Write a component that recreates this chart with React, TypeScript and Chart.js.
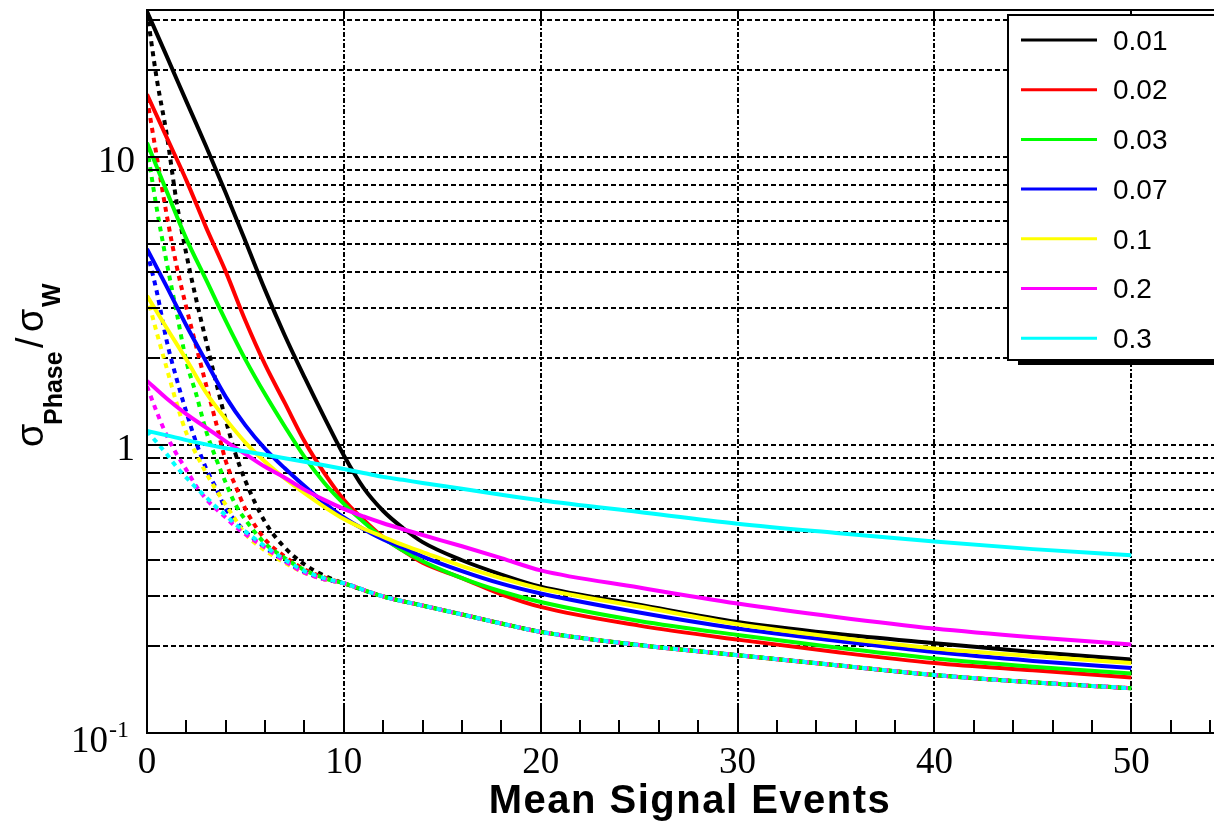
import React, { useEffect, useRef } from "react";
import { Chart, registerables } from "chart.js";

Chart.register(...registerables);

const W = 1214;
const H = 822;
const X_MAX = 54.2;
const Y_MIN = 0.1;
const Y_MAX = 32.4;

const legendLabels = ["0.01", "0.02", "0.03", "0.07", "0.1", "0.2", "0.3"];
const seriesColors = ["#000000", "#ff0000", "#00ff00", "#0000ff", "#ffff00", "#ff00ff", "#00ffff"];

const xTickValues = [0, 10, 20, 30, 40, 50];
const yTickValues = [0.1, 0.2, 0.3, 0.4, 0.5, 0.6, 0.7, 0.8, 0.9, 1, 2, 3, 4, 5, 6, 7, 8, 9, 10, 20, 30];
const yLabelValues = [1, 10];
const xTitle = "Mean Signal Events";
const yTitleMain = "\u03C3";
const yTitleSub1 = "Phase";
const yTitleSub2 = "W";

// solid curves
const xSolid = [0, 1, 2, 3, 4, 5, 6, 7, 8, 9, 10, 11, 12, 13, 14, 16, 18, 20, 25, 30, 35, 40, 45, 50];
const solid001 = [32, 22.4, 15.6, 10.9, 7.5, 5.1, 3.45, 2.4, 1.72, 1.25, 0.92, 0.71, 0.59, 0.515, 0.46, 0.398, 0.355, 0.322, 0.279, 0.243, 0.221, 0.205, 0.191, 0.18];
const solid002 = [16.5, 11.7, 8.3, 5.7, 4.0, 2.7, 1.9, 1.4, 1.03, 0.8, 0.645, 0.55, 0.478, 0.43, 0.39, 0.345, 0.303, 0.274, 0.236, 0.211, 0.191, 0.175, 0.165, 0.156];
const solid003 = [11.2, 7.6, 5.2, 3.75, 2.7, 1.98, 1.5, 1.16, 0.91, 0.74, 0.625, 0.54, 0.475, 0.43, 0.395, 0.345, 0.31, 0.285, 0.245, 0.219, 0.198, 0.1815, 0.17, 0.161];
const solid007 = [4.8, 3.55, 2.6, 1.95, 1.47, 1.17, 0.97, 0.83, 0.72, 0.63, 0.56, 0.51, 0.47, 0.44, 0.41, 0.365, 0.33, 0.305, 0.262, 0.2305, 0.209, 0.191, 0.178, 0.168];
const solid01 = [3.3, 2.55, 1.98, 1.52, 1.23, 1.02, 0.875, 0.765, 0.68, 0.61, 0.553, 0.512, 0.48, 0.45, 0.425, 0.38, 0.345, 0.317, 0.275, 0.2387, 0.215, 0.1966, 0.185, 0.175];
const solid02 = [1.67, 1.45, 1.28, 1.15, 1.03, 0.93, 0.84, 0.77, 0.7, 0.645, 0.6, 0.565, 0.535, 0.51, 0.487, 0.445, 0.405, 0.367, 0.32, 0.2815, 0.253, 0.2305, 0.215, 0.203];
const solid03 = [1.12, 1.08, 1.04, 1.005, 0.975, 0.95, 0.925, 0.9, 0.875, 0.85, 0.825, 0.8, 0.775, 0.757, 0.738, 0.705, 0.672, 0.643, 0.585, 0.533, 0.495, 0.462, 0.435, 0.414];

// dotted curves
const xDotted = [0, 0.5, 1, 1.5, 2, 2.5, 3, 3.5, 4, 4.5, 5, 6, 7, 8, 9, 10, 12, 14, 16, 18, 20, 25, 30, 35, 40, 45, 50];
const dotted001 = [32, 18.6, 12, 7.0, 4.6, 3.2, 2.3, 1.66, 1.22, 0.93, 0.75, 0.54, 0.44, 0.385, 0.352, 0.331, 0.298, 0.277, 0.258, 0.24, 0.2245, 0.202, 0.1863, 0.172, 0.159, 0.15, 0.143];
const dotted002 = [16, 10, 6.3, 4.2, 3.0, 2.2, 1.62, 1.2, 0.88, 0.72, 0.6, 0.47, 0.41, 0.37, 0.347, 0.331, 0.298, 0.277, 0.258, 0.24, 0.2245, 0.202, 0.1863, 0.172, 0.159, 0.15, 0.143];
const dotted003 = [10.8, 6.6, 4.3, 2.9, 1.95, 1.5, 1.12, 0.9, 0.74, 0.62, 0.55, 0.455, 0.405, 0.368, 0.345, 0.331, 0.298, 0.277, 0.258, 0.24, 0.2245, 0.202, 0.1863, 0.172, 0.159, 0.15, 0.143];
const dotted007 = [4.7, 3.4, 2.3, 1.7, 1.3, 1.02, 0.83, 0.71, 0.6, 0.545, 0.5, 0.44, 0.395, 0.362, 0.342, 0.331, 0.298, 0.277, 0.258, 0.24, 0.2245, 0.202, 0.1863, 0.172, 0.159, 0.15, 0.143];
const dotted01 = [3.3, 2.45, 1.85, 1.4, 1.1, 0.93, 0.8, 0.7, 0.62, 0.55, 0.49, 0.43, 0.39, 0.36, 0.342, 0.331, 0.298, 0.277, 0.258, 0.24, 0.2245, 0.202, 0.1863, 0.172, 0.159, 0.15, 0.143];
const dotted02 = [1.6, 1.3, 1.08, 0.93, 0.82, 0.72, 0.65, 0.6, 0.56, 0.52, 0.49, 0.44, 0.395, 0.36, 0.342, 0.331, 0.298, 0.277, 0.258, 0.24, 0.2245, 0.202, 0.1863, 0.172, 0.159, 0.15, 0.143];
const dotted03 = [1.12, 1.02, 0.93, 0.84, 0.77, 0.71, 0.66, 0.61, 0.57, 0.53, 0.5, 0.445, 0.4, 0.365, 0.345, 0.331, 0.298, 0.277, 0.258, 0.24, 0.2245, 0.202, 0.1863, 0.172, 0.159, 0.15, 0.143];

const solidSeries = [solid001, solid002, solid003, solid007, solid01, solid02, solid03];
const dottedSeries = [dotted001, dotted002, dotted003, dotted007, dotted01, dotted02, dotted03];

const SERIF = '"Liberation Serif", "Times New Roman", serif';
const SANS = '"Liberation Sans", Arial, sans-serif';

function line(ctx: CanvasRenderingContext2D, x1: number, y1: number, x2: number, y2: number) {
  ctx.beginPath();
  ctx.moveTo(x1, y1);
  ctx.lineTo(x2, y2);
  ctx.stroke();
}

const decorPlugin = {
  id: "decor",
  beforeDatasetsDraw(chart: any) {
    const { ctx, chartArea: a, scales } = chart;
    const xs = scales.x;
    const ys = scales.y;
    ctx.save();
    ctx.strokeStyle = "#000";
    ctx.lineWidth = 2;
    ctx.setLineDash([5, 3]);
    yTickValues.forEach((v) => {
      if (v <= Y_MIN) return;
      const py = Math.round(ys.getPixelForValue(v));
      line(ctx, a.left, py, a.right, py);
    });
    ctx.setLineDash([5, 2, 2, 2]);
    xTickValues.forEach((v) => {
      if (v === 0) return;
      const px = Math.round(xs.getPixelForValue(v));
      line(ctx, px, a.top, px, a.bottom);
    });
    ctx.restore();
  },
  afterDraw(chart: any) {
    const { ctx, chartArea: a, scales } = chart;
    const xs = scales.x;
    const ys = scales.y;
    ctx.save();
    ctx.setLineDash([]);
    ctx.strokeStyle = "#000";
    ctx.lineWidth = 2;
    // frame
    line(ctx, a.left, a.top, a.left, a.bottom);
    line(ctx, a.left - 1, a.bottom, a.right, a.bottom);
    line(ctx, a.left - 1, a.top, a.right, a.top);
    // x ticks (inward)
    for (let v = 2; v <= X_MAX; v += 2) {
      const px = Math.round(xs.getPixelForValue(v));
      const major = v % 10 === 0;
      line(ctx, px, a.bottom, px, a.bottom - (major ? 25 : 13));
      if (major) line(ctx, px, a.top, px, a.top + 8);
    }
    // y ticks (inward)
    yTickValues.forEach((v) => {
      if (v <= Y_MIN) return;
      const py = Math.round(ys.getPixelForValue(v));
      const major = yLabelValues.includes(v);
      line(ctx, a.left, py, a.left + (major ? 20 : 12), py);
    });

    // 10^-1 label
    ctx.fillStyle = "#000";
    ctx.textAlign = "left";
    ctx.textBaseline = "alphabetic";
    ctx.font = `37px ${SERIF}`;
    const baseLbl = "10";
    const bw = ctx.measureText(baseLbl).width;
    ctx.fillText(baseLbl, 71, 752);
    ctx.font = `24px ${SERIF}`;
    ctx.fillText("-1", 71 + bw + 1, 737);

    // x title
    ctx.font = `bold 40px ${SANS}`;
    (ctx as any).letterSpacing = "1.5px";
    ctx.textAlign = "center";
    ctx.fillText(xTitle, 690, 813);
    (ctx as any).letterSpacing = "0px";

    // y title (rotated)
    ctx.save();
    ctx.translate(43, 447);
    ctx.rotate(-Math.PI / 2);
    ctx.textAlign = "left";
    ctx.font = `38px ${SANS}`;
    ctx.fillText(yTitleMain, 0, 0);
    ctx.font = `bold 25px ${SANS}`;
    ctx.fillText(yTitleSub1, 22, 19);
    ctx.font = `38px ${SANS}`;
    ctx.fillText("/", 99, 0);
    ctx.fillText(yTitleMain, 115, 0);
    ctx.font = `bold 25px ${SANS}`;
    ctx.fillText(yTitleSub2, 140, 17);
    ctx.restore();

    // legend
    const L = 1007;
    const T = 14;
    const B = 360;
    ctx.fillStyle = "#000";
    ctx.fillRect(1018, B - 2, W, 7);
    ctx.fillStyle = "#fff";
    ctx.fillRect(L, T, W, B - T);
    ctx.lineWidth = 2;
    ctx.strokeStyle = "#000";
    ctx.strokeRect(L + 1, T + 1, W, B - T - 1);
    ctx.font = `28px ${SANS}`;
    ctx.textAlign = "left";
    ctx.textBaseline = "middle";
    legendLabels.forEach((lab, i) => {
      const yy = 40 + i * 49.7;
      ctx.strokeStyle = seriesColors[i];
      ctx.lineWidth = 3;
      line(ctx, 1021, yy, 1097, yy);
      ctx.fillStyle = "#000";
      ctx.fillText(lab, 1113, yy + 2);
    });
    ctx.restore();
  },
};

export default function App() {
  const ref = useRef<HTMLCanvasElement | null>(null);
  useEffect(() => {
    const canvas = ref.current;
    if (!canvas) return;
    const datasets: any[] = [];
    legendLabels.forEach((lab, i) => {
      datasets.push({
        label: lab,
        data: xSolid.map((x, j) => ({ x, y: solidSeries[i][j] })),
        borderColor: seriesColors[i],
        backgroundColor: seriesColors[i],
        borderWidth: 4,
        pointRadius: 0,
        fill: false,
        cubicInterpolationMode: "monotone",
        order: 100 - 2 * i,
      });
      datasets.push({
        label: lab + " (dotted)",
        data: xDotted.map((x, j) => ({ x, y: dottedSeries[i][j] })),
        borderColor: seriesColors[i],
        backgroundColor: seriesColors[i],
        borderWidth: 4,
        borderDash: [5, 5],
        pointRadius: 0,
        fill: false,
        cubicInterpolationMode: "monotone",
        order: 99 - 2 * i,
      });
    });
    const chart = new Chart(canvas, {
      type: "line",
      data: { datasets },
      options: {
        animation: false,
        responsive: false,
        devicePixelRatio: 1,
        layout: { padding: { top: 10, left: 0, right: 0, bottom: 0 } },
        plugins: { legend: { display: false }, tooltip: { enabled: false }, title: { display: false } },
        scales: {
          x: {
            type: "linear",
            min: 0,
            max: X_MAX,
            afterBuildTicks: (s: any) => {
              s.ticks = xTickValues.map((v) => ({ value: v }));
            },
            afterFit: (s: any) => {
              s.height = H - 733;
              s.paddingLeft = 0;
              s.paddingRight = 0;
            },
            ticks: {
              autoSkip: false,
              maxRotation: 0,
              color: "#000",
              padding: 8,
              font: { family: SERIF, size: 37 },
              callback: (v: any) => String(v),
            },
            grid: { display: false, drawTicks: false },
            border: { display: false },
          },
          y: {
            type: "logarithmic",
            min: Y_MIN,
            max: Y_MAX,
            afterBuildTicks: (s: any) => {
              s.ticks = yTickValues.map((v) => ({ value: v }));
            },
            afterFit: (s: any) => {
              s.width = 147;
              s.paddingTop = 0;
              s.paddingBottom = 0;
            },
            ticks: {
              autoSkip: false,
              color: "#000",
              padding: 12,
              labelOffset: 5,
              font: { family: SERIF, size: 37 },
              callback: (v: any) => (yLabelValues.includes(v) ? String(v) : ""),
            },
            grid: { display: false, drawTicks: false },
            border: { display: false },
          },
        },
      },
      plugins: [decorPlugin],
    } as any);
    return () => chart.destroy();
  }, []);
  return (
    <div style={{ position: "absolute", left: 0, top: 0, width: W, height: H, background: "#fff" }}>
      <canvas ref={ref} width={W} height={H} style={{ display: "block", width: W, height: H }} />
    </div>
  );
}
